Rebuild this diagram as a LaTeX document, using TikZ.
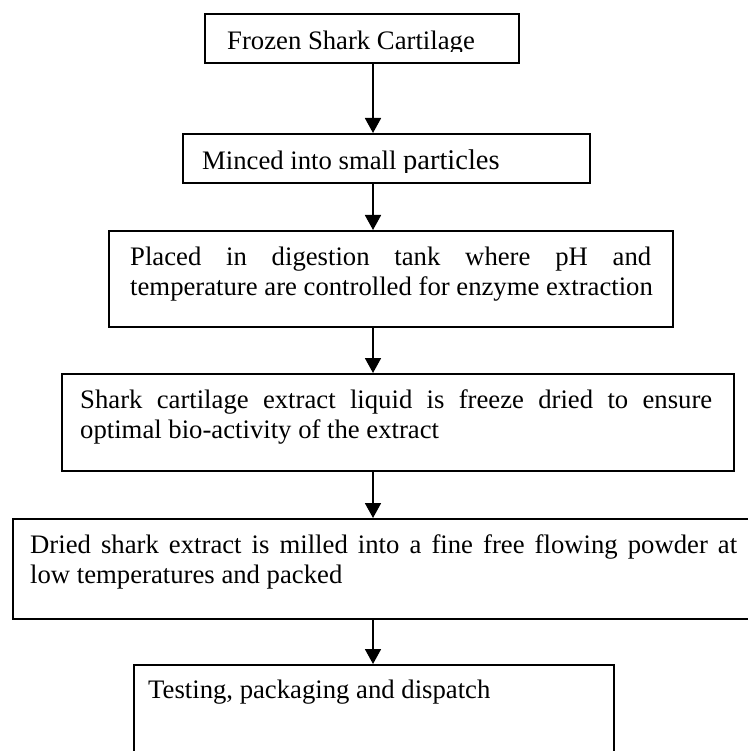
\documentclass[tikz,border=0pt]{standalone}
\usepackage{fontspec}
\setmainfont{Liberation Serif}
\usetikzlibrary{arrows.meta}
\tikzset{
  box/.style={draw=black, line width=1.6pt, rectangle, inner sep=0pt, anchor=north west},
  arr/.style={line width=1.8pt, -{Triangle[width=16pt,length=15pt]}},
  txt/.style={inner sep=0pt, anchor=base west, font=\fontsize{26.7}{30}\selectfont}
}
\begin{document}
\begin{tikzpicture}[x=1pt,y=-1pt]
\useasboundingbox (0,0) rectangle (747,751);
\fill[white] (0,0) rectangle (747,751);
\coordinate (ax) at (373,0);
% boxes
\node[box, minimum width=314pt, minimum height=49pt] (b1) at (204,13) {};
\node[box, minimum width=407pt, minimum height=49pt] (b2) at (182,133) {};
\node[box, minimum width=564pt, minimum height=96pt] (b3) at (108,230) {};
\node[box, minimum width=672pt, minimum height=97pt] (b4) at (61,373) {};
\node[box, minimum width=760pt, minimum height=100pt] (b5) at (12,518) {};
\node[box, minimum width=480pt, minimum height=90pt] (b6) at (133,664) {};
% texts
\begin{scope}
\clip (204,13) rectangle (518,52);
\node[txt] (t1) at (227,50) {Frozen Shark Cartilage};
\end{scope}
\begin{scope}
\clip (182,133) rectangle (589,173);
\node[txt] (t2) at (202,170) {Minced into small {\fontsize{28.5}{30}\selectfont particles}};
\end{scope}
\node[txt] (t3a) at (130,265) {\makebox[521pt][s]{Placed in digestion tank where pH and}};
\node[txt] (t3b) at (130,295) {temperature are controlled for enzyme extraction};
\node[txt] (t4a) at (80,408) {\makebox[632pt][s]{Shark cartilage extract liquid is freeze dried to ensure}};
\node[txt] (t4b) at (80,438) {optimal bio-activity of the extract};
\node[txt] (t5a) at (30,553) {\makebox[707pt][s]{Dried shark extract is milled into a fine free flowing powder at}};
\node[txt] (t5b) at (30,583) {low temperatures and packed};
\node[txt] (t6) at (148,698) {Testing, packaging and dispatch};
% arrows
\draw[arr] (b1.south -| ax) -- (b2.north -| ax);
\draw[arr] (b2.south -| ax) -- (b3.north -| ax);
\draw[arr] (b3.south -| ax) -- (b4.north -| ax);
\draw[arr] (b4.south -| ax) -- (b5.north -| ax);
\draw[arr] (b5.south -| ax) -- (b6.north -| ax);
\end{tikzpicture}
\end{document}
